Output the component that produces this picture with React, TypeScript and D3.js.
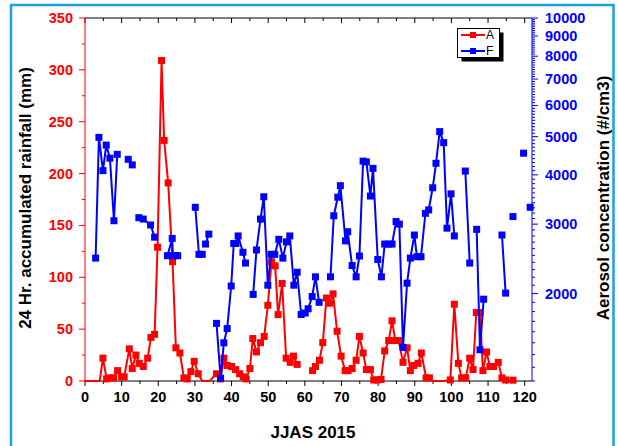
import * as d3 from "d3";

// JJAS 2015: day index (since 1 June) for each sample
const rainDay = [
  0, 1, 2, 3, 4, 4.9, 5.9, 6.8, 7.8, 8.9, 10, 10.7, 12.1, 12.9, 13.9, 14.8, 15.9, 17.1, 18, 19,
  19.8, 20.9, 21.6, 22.7, 23.9, 24.8, 25.9, 27, 27.9, 28.9, 29.8, 30.9, 32, 33, 34, 35.9, 37, 37.9, 38.8, 40,
  41.1, 42.2, 43.2, 44, 45, 45.8, 46.8, 47.9, 48.9, 49.9, 50.9, 51.9, 52.7, 53.8, 54.9, 56, 56.9, 57.9, null, 62.1,
  62.9, 64, 64.9, 65.9, 66.8, 67.7, 68.8, 69.9, 71, 71.8, 72.9, 74, 74.9, 75.9, 76.8, 77.9, 78.8, 79.8, 80.8, 81.8,
  82.9, 83.8, 84.7, 85.6, 86.8, 87.9, 88.8, 89.7, 90.9, 91.8, 93.1, 94, 95, 96, 97, 98, 99.7, 100.8, 101.9, 102.8,
  103.9, 105, 105.9, 106.8, 107.8, 108.6, 109.6, 110.5, 111.5, 112.8, 113.8, 114.8, 116, 116.8, 117.4,
];
// 24 hr accumulated rainfall (mm)
const rainMm = [
  0, 0, 0, 0, 0, 22, 2, 3, 3, 10, 4, 4, 31, 12, 25, 17, 14, 22, 42, 45,
  129, 309, 232, 191, 115, 32, 27, 3, 2, 9, 19, 7, 0, 0, 0, 7, 2, 22, 15, 14,
  11, 7, 4, 2, 12, 41, 28, 37, 43, 73, 115, 111, 64, 94, 22, 18, 24, 16, null, 10,
  14, 20, 37, 80, 75, 84, 48, 24, 10, 10, 12, 20, 43, 27, 11, 11, 1, 1, 1.5, 29,
  39, 58, 39, 39, 18, 32, 10, 15, 17, 27, 3, 3, 0, 0, 0, 0, 1, 74, 17, 3,
  3, 22, 11, 66, 66, 10, 28, 14, 14, 18, 3, 1, 0, 0.8, 0,
];

// aerosol samples, null marks a break in the record
const aerosolDay = [
  2.9, 3.8, 4.9, 5.8, 6.8, 7.9, 8.8, null,
  11.8, 12.9, null,
  14.7, 15.9, 17.9, 19, null,
  22.5, 23.8, 24.0, 24.7, 25.3, null,
  30.1, 31.1, 32, null,
  32.9, 33.8, null,
  35.9, 37, 37.9, 38.8, 39.9, 40.6, 41.2, 41.8, 43.1, 43.8, null,
  45.9, 46.8, 47.9, 48.8, 49.9, 50.8, 51.8, 52.9, 54, 55, 55.9, 57, 57.9, 59, 60.1, 60.9, 62, 62.9, 63.9, null,
  67, 67.9, 69, 69.7, 71.1, 71.7, 72.9, 74, 74.9, 75.9, 76.8, 77.9, 78.6, 79.9, 80.9, 81.8, 82.8, 83.8, 84.9, 85.8,
  86.8, 87.9, 88.8, 89.9, 90.6, 91.7, 92.9, 93.8, 94.9, 95.8, 96.8, 97.9, 98.8, 99.9, 100.8, null,
  103.8, 105, null,
  106.9, 107.8, 108.8, null,
  113.8, 114.8, null,
  116.8, null,
  119.7, null,
  121.5,
];
// aerosol concentration (#/cm3)
const aerosolCm3 = [
  2460, 4980, 4100, 4760, 4410, 3060, 4510, null,
  4380, 4240, null,
  3115, 3090, 2985, 2780, null,
  2495, 2760, 2495, 2495, 2495, null,
  3310, 2515, 2515, null,
  2670, 2830, null,
  1680, 1220, 1500, 1630, 2090, 2680, 2680, 2800, 2545, 2390, null,
  1990, 2580, 3090, 3520, 2100, 2515, 2515, 2745, 2460, 2705, 2800, 2100, 2265, 1770, 1785, 1830, 1965, 2205, 1900, null,
  2205, 3150, 3510, 3755, 2720, 2870, 2355, 2205, 2490, 4335, 4315, 3535, 4155, 2440, 2205, 2670, 2670, 2670, 3045, 3000,
  1460, 2125, 2460, 2815, 2480, 2480, 3195, 3260, 3710, 4280, 5150, 4830, 2930, 3580, 2800, null,
  4090, 2390, null,
  2910, 1440, 1935, null,
  2815, 2005, null,
  3135, null,
  4540, null,
  3310,
];

const xTickValues = d3.range(0, 121, 10);
const leftTickValues = [0, 50, 100, 150, 200, 250, 300, 350];
const rightTickValues = [2000, 3000, 4000, 5000, 6000, 7000, 8000, 9000, 10000];

type Pt = { day: number | null; v: number | null };

export default function App() {
  const width = 618;
  const height = 446;
  const left = 85, right = 532, top = 18, bottom = 381;

  const x = d3.scaleLinear().domain([0, 122]).range([left, right]);
  const yL = d3.scaleLinear().domain([0, 350]).range([bottom, top]);
  const yR = d3.scaleLog().domain([1200, 10000]).range([bottom, top]);

  const rain: Pt[] = rainDay.map((d, i) => ({ day: d, v: rainMm[i] }));
  const aerosol: Pt[] = aerosolDay.map((d, i) => ({ day: d, v: aerosolCm3[i] }));

  const rainLine = d3
    .line<Pt>()
    .defined(p => p.day !== null && p.v !== null)
    .x(p => x(p.day as number))
    .y(p => yL(p.v as number));

  const aerosolLine = d3
    .line<Pt>()
    .defined(p => p.day !== null && p.v !== null)
    .x(p => x(p.day as number))
    .y(p => yR(p.v as number));

  const font = "'Liberation Sans', Arial, sans-serif";
  const ms = 7; // marker size

  const xMinor = d3.range(0, 122, 5);
  const leftMinor = d3.range(0, 351, 25);
  const rightMinor = d3.range(1200, 10001, 100).filter(v => !rightTickValues.includes(v));

  return (
    <div style={{ position: "fixed", left: 0, top: 0 }}>
      <svg width={width} height={height} style={{ display: "block", background: "#fff" }}>
        {/* outer frame */}
        <rect x={11} y={5} width={602.5} height={450} fill="none" stroke="#1ba1e2" strokeWidth={2.5} />

        {/* top axis */}
        <line x1={left} x2={right} y1={top} y2={top} stroke="#000" strokeWidth={1} />
        {xMinor.map(t => (
          <line key={"tt" + t} x1={x(t)} x2={x(t)} y1={top} y2={top + (t % 10 === 0 ? 5 : 3)} stroke="#000" />
        ))}

        {/* bottom axis */}
        <line x1={left} x2={right} y1={bottom} y2={bottom} stroke="#000" strokeWidth={1} />
        {xMinor.map(t => (
          <line key={"bt" + t} x1={x(t)} x2={x(t)} y1={bottom} y2={bottom + (t % 10 === 0 ? 5 : 3)} stroke="#000" />
        ))}
        {xTickValues.map(t => (
          <text key={"bl" + t} x={x(t)} y={402} textAnchor="middle" fontFamily={font} fontWeight="bold" fontSize={14.5} fill="#000">
            {t}
          </text>
        ))}
        <text x={313} y={438} textAnchor="middle" fontFamily={font} fontWeight="bold" fontSize={17} fill="#000">
          JJAS 2015
        </text>

        {/* left axis (rain) */}
        <line x1={left} x2={left} y1={top} y2={bottom} stroke="#ff0000" strokeWidth={1} />
        {leftMinor.map(t => (
          <line key={"lt" + t} x1={left} x2={left - (t % 50 === 0 ? 6 : 3)} y1={yL(t)} y2={yL(t)} stroke="#ff0000" />
        ))}
        {leftTickValues.map(t => (
          <text key={"ll" + t} x={73} y={yL(t) + 5} textAnchor="end" fontFamily={font} fontWeight="bold" fontSize={14.5} fill="#ff0000">
            {t}
          </text>
        ))}
        <text
          transform={`translate(31,198) rotate(-90)`}
          textAnchor="middle"
          fontFamily={font}
          fontWeight="bold"
          fontSize={17}
          fill="#000"
        >
          24 Hr. accumulated rainfall (mm)
        </text>

        {/* right axis (aerosol) */}
        <line x1={right} x2={right} y1={top} y2={bottom} stroke="#0000ff" strokeWidth={1} />
        {rightMinor.map(t => (
          <line key={"rm" + t} x1={right} x2={right + 3} y1={yR(t)} y2={yR(t)} stroke="#0000ff" />
        ))}
        {rightTickValues.map(t => (
          <line key={"rt" + t} x1={right} x2={right + 6} y1={yR(t)} y2={yR(t)} stroke="#0000ff" />
        ))}
        {rightTickValues.map(t => (
          <text key={"rl" + t} x={545} y={yR(t) + 5} textAnchor="start" fontFamily={font} fontWeight="bold" fontSize={14.5} fill="#0000ff">
            {t}
          </text>
        ))}
        <text
          transform={`translate(609,198) rotate(-90)`}
          textAnchor="middle"
          fontFamily={font}
          fontWeight="bold"
          fontSize={17}
          fill="#000"
        >
          Aerosol concentration (#/cm3)
        </text>

        {/* rain series */}
        <path d={rainLine(rain) || ""} fill="none" stroke="#ff0000" strokeWidth={2} strokeLinejoin="round" />
        {rain
          .filter(p => p.day !== null && p.v !== null && (p.v as number) > 0)
          .map((p, i) => (
            <rect
              key={"rm" + i}
              x={x(p.day as number) - ms / 2}
              y={yL(p.v as number) - ms / 2}
              width={ms}
              height={ms}
              fill="#ff0000"
            />
          ))}

        {/* aerosol series */}
        <path d={aerosolLine(aerosol) || ""} fill="none" stroke="#0000ff" strokeWidth={2} strokeLinejoin="round" />
        {aerosol
          .filter(p => p.day !== null && p.v !== null)
          .map((p, i) => (
            <rect
              key={"am" + i}
              x={x(p.day as number) - ms / 2}
              y={yR(p.v as number) - ms / 2}
              width={ms}
              height={ms}
              fill="#0000ff"
            />
          ))}

        {/* legend */}
        <g>
          <rect x={461.5} y={32.5} width={42} height={29} fill="#000" />
          <rect x={457.5} y={28.5} width={42} height={29} fill="#fff" stroke="#000" strokeWidth={1} />
          <line x1={461} x2={485} y1={35} y2={35} stroke="#ff0000" strokeWidth={2} />
          <rect x={473 - 3} y={35 - 3} width={6} height={6} fill="#ff0000" />
          <text x={486} y={39} fontFamily={font} fontSize={12} fill="#000">A</text>
          <line x1={461} x2={485} y1={51} y2={51} stroke="#0000ff" strokeWidth={2} />
          <rect x={473 - 3} y={51 - 3} width={6} height={6} fill="#0000ff" />
          <text x={486} y={55} fontFamily={font} fontSize={12} fill="#000">F</text>
        </g>
      </svg>
    </div>
  );
}
